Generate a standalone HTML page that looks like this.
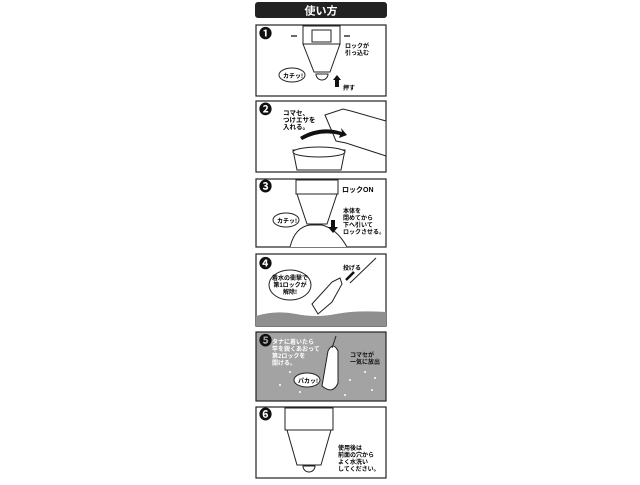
<!DOCTYPE html>
<html><head><meta charset="utf-8"><style>
body{margin:0;background:#fff;width:640px;height:480px;overflow:hidden}
text{font-family:"Liberation Sans","Noto Sans CJK JP",sans-serif;font-weight:bold}
</style></head><body>
<svg width="640" height="480" viewBox="0 0 640 480" xmlns="http://www.w3.org/2000/svg">
<rect x="255" y="2" width="132" height="16" rx="3" fill="#222"/>
<text x="321" y="14.5" font-size="11" fill="#fff" text-anchor="middle">使い方</text>
<g fill="none" stroke="#222" stroke-width="1.2">
<rect x="256" y="25" width="130" height="71"/>
<rect x="256" y="101" width="130" height="71"/>
<rect x="256" y="179" width="130" height="68"/>
<rect x="256" y="254" width="130" height="72"/>
<rect x="256" y="332" width="130" height="69" fill="#a3a3a3"/>
<rect x="256" y="407" width="130" height="71"/>
</g>
<g font-size="13" fill="#111"><text x="259" y="38">❶</text><text x="259" y="114">❷</text><text x="259" y="191">❸</text><text x="259" y="268">❹</text><text x="259" y="345">❺</text><text x="259" y="419">❻</text></g>
<!-- panel1 -->
<g stroke="#222" fill="#fff" stroke-width="1">
<path d="M303 44 L340 44 L330 72 L314 72 Z"/>
<rect x="303" y="26" width="37" height="18"/>
<rect x="312" y="30" width="19" height="12"/>
<path d="M316 74 a6 6 0 0 0 12 0 Z"/>
<ellipse cx="292" cy="75" rx="13" ry="7"/>
</g>
<text x="283" y="78" font-size="6">カチッ!</text>
<path d="M333 80 l4 -5 l4 5 h-2 v7 h-4 v-7 Z" fill="#111"/>
<text x="343" y="90" font-size="6">押す</text>
<text x="345" y="48" font-size="6">ロックが</text><text x="345" y="55" font-size="6">引っ込む</text>
<path d="M291 36 h6 M344 36 h6" stroke="#111" stroke-width="1.3"/>
<!-- panel2 -->
<g stroke="#222" fill="#fff" stroke-width="1">
<path d="M325 115 l18 -6 l8 2 l35 10 v35 l-40 -13 l-10 -2 Z"/>
<path d="M293 150 h52 l-4 20 h-44 Z"/>
<ellipse cx="319" cy="152" rx="26" ry="5"/>
</g>
<path d="M300 137 q20 -12 42 -5 l-1 -4 l6 7 l-8 3 l1 -3 q-20 -5 -38 5 Z" fill="#111"/>
<text x="283" y="115" font-size="6.5">コマセ、</text><text x="283" y="122" font-size="6.5">つけエサを</text><text x="283" y="129" font-size="6.5">入れる。</text>
<!-- panel3 -->
<g stroke="#222" fill="#fff" stroke-width="1">
<rect x="296" y="180" width="42" height="14"/>
<path d="M297 194 h40 l-10 30 h-20 Z"/>
<path d="M290 247 q5 -20 20 -22 l12 0 q15 4 25 22"/>
<ellipse cx="286" cy="220" rx="13" ry="7"/>
</g>
<text x="277" y="223" font-size="6">カチッ!</text>
<path d="M331 220 h4 v7 h3 l-5 6 l-5 -6 h3 Z" fill="#111"/>
<text x="342" y="192" font-size="7">ロックON</text>
<text x="343" y="213" font-size="6">本体を</text><text x="343" y="220" font-size="6">閉めてから</text><text x="343" y="227" font-size="6">下へ引いて</text><text x="343" y="234" font-size="6">ロックさせる。</text>
<!-- panel4 -->
<path d="M256 316 q20 -6 40 -2 t40 0 t50 -2 v14 h-130 Z" fill="#8f8f8f"/>
<path d="M350 283 l26 -25" stroke="#222"/>
<g stroke="#222" fill="#fff"><path d="M312 304 l20 -22 l8 -4 l2 6 l-10 18 l-14 12 Z"/></g>
<ellipse cx="290" cy="285" rx="21" ry="15" fill="#fff" stroke="#222"/>
<text x="290" y="280" font-size="6" text-anchor="middle">着水の衝撃で</text><text x="290" y="287" font-size="6" text-anchor="middle">第1ロックが</text><text x="290" y="294" font-size="6" text-anchor="middle">解除!</text>
<path d="M346 280 l8 -8" stroke="#111" stroke-width="2.5"/>
<text x="343" y="270" font-size="6">投げる</text>
<!-- panel5 -->
<g fill="#fff"><circle cx="280" cy="385" r="1"/><circle cx="300" cy="392" r="1"/><circle cx="350" cy="380" r="1"/><circle cx="372" cy="390" r="1"/><circle cx="365" cy="372" r="1"/><circle cx="290" cy="372" r="1"/><circle cx="345" cy="395" r="1"/><circle cx="375" cy="378" r="1"/></g>
<g stroke="#222" fill="#fff"><path d="M322 386 l6 -35 q5 -10 10 0 l0 32 q-5 12 -16 3 Z"/></g>
<path d="M332 348 l4 -12" stroke="#222"/>
<ellipse cx="307" cy="380" rx="13" ry="7" fill="#fff" stroke="#222"/>
<text x="298" y="383" font-size="6">パカッ!</text>
<g font-size="6" fill="#fff"><text x="272" y="344">タナに着いたら</text><text x="272" y="351">竿を鋭くあおって</text><text x="272" y="358">第2ロックを</text><text x="272" y="365">開ける。</text></g>
<text x="350" y="357" font-size="6" fill="#111">コマセが</text><text x="350" y="364" font-size="6" fill="#111">一気に放出</text>
<!-- panel6 -->
<g stroke="#222" fill="#fff">
<rect x="285" y="408" width="48" height="22"/>
<path d="M287 430 h44 l-10 35 h-24 Z"/>
<path d="M303 466 a6 6 0 0 0 12 0 Z"/>
</g>
<text x="338" y="450" font-size="6">使用後は</text><text x="338" y="457" font-size="6">前面の穴から</text><text x="338" y="464" font-size="6">よく水洗い</text><text x="338" y="471" font-size="6">してください。</text>
</svg>
</body></html>
